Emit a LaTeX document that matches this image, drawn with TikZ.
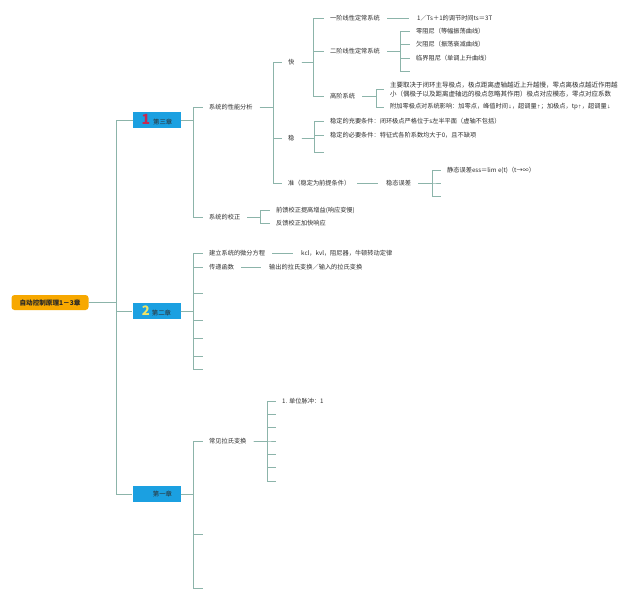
\documentclass[tikz,border=0pt]{standalone}
\usepackage{fontspec}
\setmainfont{Noto Sans CJK SC}
\definecolor{lk}{RGB}{140,180,170}
\definecolor{tx}{RGB}{45,45,45}
\definecolor{bx}{RGB}{27,160,225}
\definecolor{og}{RGB}{247,168,0}
\definecolor{iconr}{RGB}{200,40,80}
\definecolor{icony}{RGB}{240,228,100}
\tikzset{
  link/.style={draw=lk, line width=0.6pt},
  txt/.style={anchor=west, inner sep=0pt, font=\fontsize{6.2}{9}\selectfont, text=tx},
  wide/.style={font=\fontsize{6.5}{9}\selectfont},
  chbox/.style={fill=bx, minimum width=48pt, minimum height=16pt, inner sep=0pt, font=\fontsize{6.4}{7}\selectfont, text=tx},
  rootbox/.style={fill=og, rounded corners=3pt, minimum width=77pt, minimum height=15pt, inner sep=0pt, font=\bfseries\fontsize{6.6}{7}\selectfont, text=black!85},
}
% bracket link: parent text -> bracket x -> child
\newcommand\lnk[3]{\draw[link] ([xshift=7pt]#1.east) -- (#1.east -| #3) |- ([xshift=-6pt]#2.west);}
% bracket link from a box edge
\newcommand\blnk[3]{\draw[link] (#1.east) -- (#1.east -| #3) |- ([xshift=-6pt]#2.west);}
% straight link to single child
\newcommand\slnk[2]{\draw[link] ([xshift=7pt]#1.east) -- ([xshift=-8pt]#2.west);}
\begin{document}
\begin{tikzpicture}[x=1pt,y=-1pt]
\useasboundingbox (0,0) rectangle (640,599);
\fill[white] (0,0) rectangle (640,599);

% bracket x positions
\coordinate (btr) at (116,0);
\coordinate (bch3) at (193,0);
\coordinate (bperf) at (273,0);
\coordinate (bkuai) at (313,0);
\coordinate (ber) at (400,0);
\coordinate (bgao) at (376,0);
\coordinate (bwen) at (314,0);
\coordinate (bwt) at (432,0);
\coordinate (bcorr) at (260,0);
\coordinate (bch2) at (193,0);
\coordinate (bch1) at (193,0);
\coordinate (blap) at (267,0);

% root and chapters
\node[rootbox] (root) at (50,302.5) {自动控制原理1－3章};
\node[chbox] (ch3) at (157,120) {{\color{iconr}\bfseries\fontsize{14}{12}\selectfont 1}\hspace{3pt}第三章};
\node[chbox] (ch2) at (156.5,311) {{\color{icony}\bfseries\fontsize{13}{12}\selectfont 2}\hspace{2pt}第二章};
\node[chbox] (ch1) at (156.5,494) {\hspace*{12pt}第一章};
\draw[link] (root.east) -- (root.east -| btr) |- (ch3.west);
\draw[link] (root.east) -- (root.east -| btr) |- (ch2.west);
\draw[link] (root.east) -- (root.east -| btr) |- (ch1.west);

% chapter 3
\node[txt] (perf) at (209,107) {系统的性能分析};
\node[txt] (corr) at (209,217) {系统的校正};
\blnk{ch3}{perf}{bch3}
\blnk{ch3}{corr}{bch3}

\node[txt] (kuai) at (288,62) {快};
\node[txt] (wen) at (288,138) {稳};
\node[txt] (zhun) at (288,183) {准（稳定为前提条件）};
\lnk{perf}{kuai}{bperf}
\lnk{perf}{wen}{bperf}
\lnk{perf}{zhun}{bperf}

\node[txt] (yi) at (330,18) {一阶线性定常系统};
\node[txt] (er) at (330,51) {二阶线性定常系统};
\node[txt] (gao) at (330,96) {高阶系统};
\lnk{kuai}{yi}{bkuai}
\lnk{kuai}{er}{bkuai}
\lnk{kuai}{gao}{bkuai}

\node[txt] (yit) at (417,18) {1／Ts＋1的调节时间ts＝3T};
\slnk{yi}{yit}

\node[txt] (er1) at (416,31) {零阻尼（等幅振荡曲线）};
\node[txt] (er2) at (416,44) {欠阻尼（振荡衰减曲线）};
\node[txt] (er3) at (416,58) {临界阻尼（单调上升曲线）};
\node[txt] (er4) at (416,71) {};
\lnk{er}{er1}{ber}
\lnk{er}{er2}{ber}
\lnk{er}{er3}{ber}
\lnk{er}{er4}{ber}

\node[txt, wide, align=left] (gao1) at (390,89.5) {主要取决于闭环主导极点，极点距离虚轴越近上升越慢，零点离极点越近作用越\\小（偶极子以及距离虚轴远的极点忽略其作用）极点对应模态，零点对应系数};
\node[txt] (gao2) at (390,107) {附加零极点对系统影响：加零点，峰值时间{\fontsize{4}{4}\selectfont ↓}，超调量{\fontsize{4}{4}\selectfont ↑}；加极点，tp{\fontsize{4}{4}\selectfont ↑}，超调量{\fontsize{4}{4}\selectfont ↓}};
\lnk{gao}{gao1}{bgao}
\lnk{gao}{gao2}{bgao}

\node[txt] (wen1) at (330,121) {稳定的充要条件：闭环极点严格位于s左半平面（虚轴不包括）};
\node[txt] (wen2) at (330,135) {稳定的必要条件：特征式各阶系数均大于0，且不缺项};
\node[txt] (wen3) at (330,152) {};
\lnk{wen}{wen1}{bwen}
\lnk{wen}{wen2}{bwen}
\lnk{wen}{wen3}{bwen}

\node[txt] (wt) at (386,183) {稳态误差};
\slnk{zhun}{wt}
\node[txt] (wt1) at (447,170) {静态误差ess＝lim e(t)（t→∞）};
\node[txt] (wt2) at (447,183) {};
\node[txt] (wt3) at (447,196) {};
\lnk{wt}{wt1}{bwt}
\lnk{wt}{wt2}{bwt}
\lnk{wt}{wt3}{bwt}

\node[txt] (corr1) at (276,210) {前馈校正提高增益(响应变慢)};
\node[txt] (corr2) at (276,223) {反馈校正加快响应};
\lnk{corr}{corr1}{bcorr}
\lnk{corr}{corr2}{bcorr}

% chapter 2
\node[txt] (jl) at (209,253) {建立系统的微分方程};
\node[txt] (cd) at (209,267) {传递函数};
\node[txt] (c2a) at (209,293) {};
\node[txt] (c2b) at (209,320) {};
\node[txt] (c2c) at (209,338) {};
\node[txt] (c2d) at (209,356) {};
\node[txt] (c2e) at (209,369) {};
\foreach \c in {jl,cd,c2a,c2b,c2c,c2d,c2e}{\blnk{ch2}{\c}{bch2}}
\node[txt] (jlt) at (301,253) {kcl，kvl，阻尼器，牛顿转动定律};
\slnk{jl}{jlt}
\node[txt] (cdt) at (269,267) {输出的拉氏变换／输入的拉氏变换};
\slnk{cd}{cdt}

% chapter 1
\node[txt] (lap) at (209,441) {常见拉氏变换};
\node[txt] (c1a) at (209,534) {};
\node[txt] (c1b) at (209,588) {};
\foreach \c in {lap,c1a,c1b}{\blnk{ch1}{\c}{bch1}}
\node[txt] (lp1) at (282,401) {1. 单位脉冲：1};
\node[txt] (lp2) at (282,414) {};
\node[txt] (lp3) at (282,427) {};
\node[txt] (lp4) at (282,441) {};
\node[txt] (lp5) at (282,454) {};
\node[txt] (lp6) at (282,467) {};
\node[txt] (lp7) at (282,481) {};
\foreach \c in {lp1,lp2,lp3,lp4,lp5,lp6,lp7}{\lnk{lap}{\c}{blap}}
\end{tikzpicture}
\end{document}
